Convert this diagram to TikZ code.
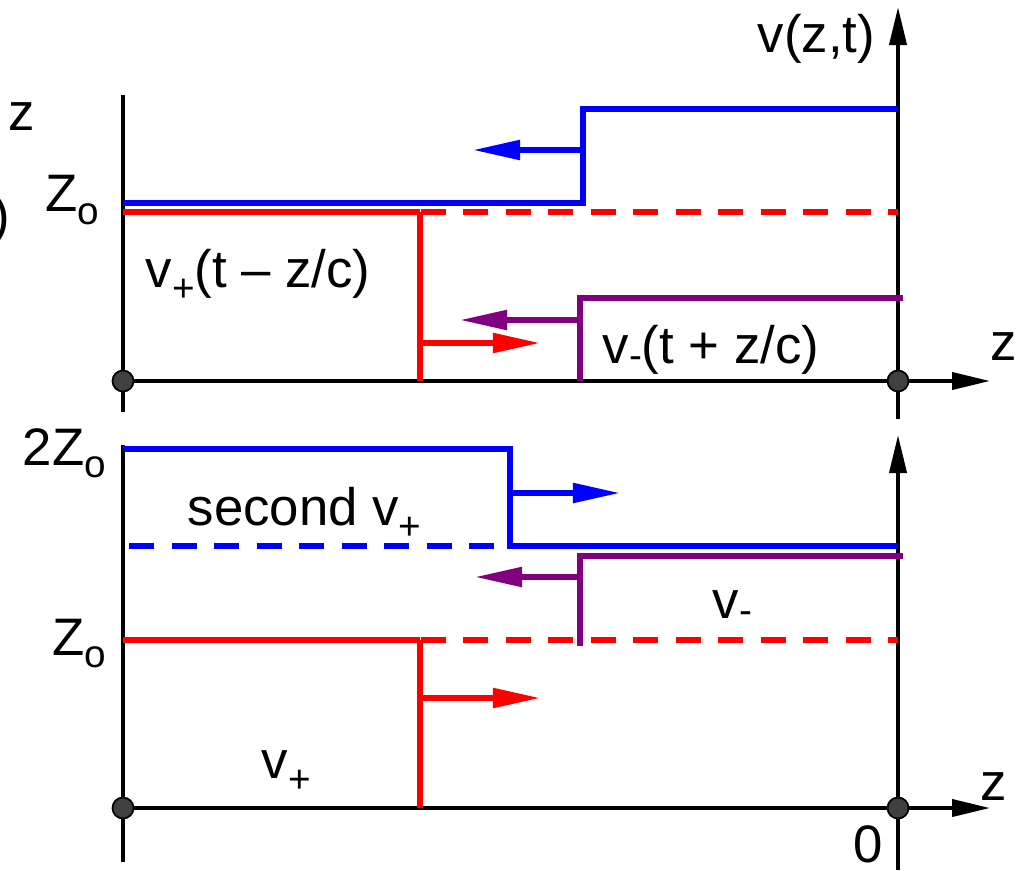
\documentclass[tikz,border=0pt]{standalone}
\usepackage{fontspec}
\setmainfont{Liberation Sans}
\usetikzlibrary{arrows.meta}
\definecolor{wblue}{RGB}{0,0,255}
\definecolor{wred}{RGB}{255,0,0}
\definecolor{wpurple}{RGB}{128,0,128}
\definecolor{dotgray}{RGB}{64,64,64}
\newcommand{\lo}[2][-0.27em]{\raisebox{#1}{\fontsize{11pt}{13pt}\selectfont #2}}

\begin{document}
\begin{tikzpicture}[x=0.01cm, y=-0.01cm,
        axis/.style={line width=1.1pt, draw=black},
        axisarrow/.style={axis, -{Triangle[length=3.8mm, width=1.7mm]}},
        wave/.style={line width=1.5pt},
        wavearrow/.style={wave, -{Triangle[length=4.7mm, width=1.9mm]}},
        refline/.style={wave, dash pattern=on 2.5mm off 1.75mm},
        dotnode/.style={circle, draw=black, line width=0.5pt, fill=dotgray, minimum size=2.1mm, inner sep=0pt},
        lbl/.style={font=\fontsize{15pt}{18pt}\selectfont, inner sep=0pt, anchor=base west}
    ]
    \useasboundingbox (0,0) rectangle (1022,870);

    % Upper panel: axes
    \coordinate (uA) at (123,381);
    \coordinate (uB) at (898,381);
    \draw[axis] (123,95) -- (123,412);
    \draw[axisarrow] (898,419) -- (898,7);
    \draw[axisarrow] (uA) -- (990,381);

    % Upper panel: incident step (red)
    \draw[wave, wred] (123,212) -- (420,212);
    \draw[refline, wred] (378,212) -- (898,212);
    \draw[wave, wred] (420,212) -- (420,381);
    \draw[wavearrow, wred] (420,343) -- (540,343);

    % Upper panel: total voltage (blue)
    \draw[wave, wblue] (123,203) -- (583,203) -- (583,109) -- (898,109);
    \draw[wavearrow, wblue] (583,150) -- (473,150);

    % Upper panel: reflected step (purple)
    \draw[wave, wpurple] (580,381) -- (580,298) -- (903,298);
    \draw[wavearrow, wpurple] (580,320) -- (460,320);

    \node[dotnode] (uO1) at (uA) {};
    \node[dotnode] (uO2) at (uB) {};

    % Lower panel: axes
    \coordinate (lA) at (123,808);
    \coordinate (lB) at (898,808);
    \draw[axis] (123,445) -- (123,862);
    \draw[axisarrow] (898,870) -- (898,435);
    \draw[axisarrow] (lA) -- (990,808);

    % Lower panel: incident step (red)
    \draw[wave, wred] (123,640) -- (420,640);
    \draw[refline, wred] (378,640) -- (898,640);
    \draw[wave, wred] (420,640) -- (420,808);
    \draw[wavearrow, wred] (420,698) -- (540,698);

    % Lower panel: second incident step (blue)
    \draw[refline, wblue] (129,546) -- (510,546);
    \draw[wave, wblue] (123,449) -- (510,449) -- (510,546) -- (898,546);
    \draw[wavearrow, wblue] (510,493) -- (620,493);

    % Lower panel: reflected step (purple)
    \draw[wave, wpurple] (580,646) -- (580,556) -- (903,556);
    \draw[wavearrow, wpurple] (580,577) -- (475,577);

    \node[dotnode] (lO1) at (lA) {};
    \node[dotnode] (lO2) at (lB) {};

    % Labels
    \node[lbl] (vzt) at (757,53) {v(z,t)};
    \node[lbl] (zleft) at (8,130) {z};
    \node[lbl, anchor=base east] (paren) at (11,233) {)};
    \node[lbl] (zoTop) at (45,212) {Z\lo[-0.23em]{o}};
    \node[lbl] (vplusFull) at (145,287) {v\lo{+}(t – z/c)};
    \node[lbl] (vminusFull) at (602,363) {v\lo[-0.1em]{-}(t + z/c)};
    \node[lbl] (zTop) at (990,360) {z};
    \node[lbl] (twoZo) at (22,465) {2Z\lo[-0.23em]{o}};
    \node[lbl] (second) at (187,525) {second v\lo{+}};
    \node[lbl] (vminus) at (712,618) {v\lo[-0.1em]{-}};
    \node[lbl] (zoBot) at (52,655) {Z\lo[-0.23em]{o}};
    \node[lbl] (vplus) at (261,778) {v\lo{+}};
    \node[lbl] (zBot) at (980,800) {z};
    \node[lbl] (zero) at (853,862) {0};

\end{tikzpicture}
\end{document}
